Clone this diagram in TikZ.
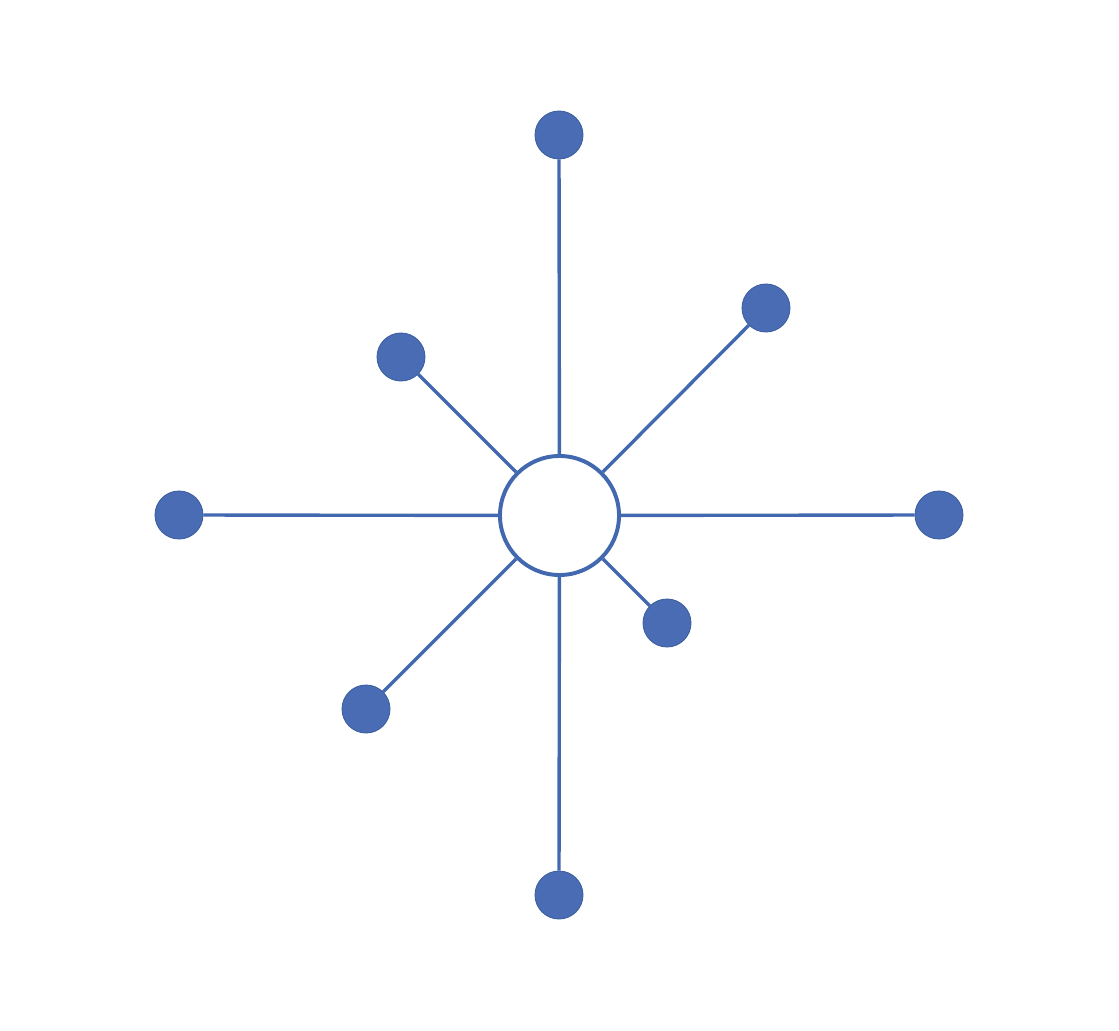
\documentclass[tikz,border=0pt]{standalone}
\definecolor{hubblue}{HTML}{4268B0}
\definecolor{leafblue}{HTML}{4A6CB4}
\tikzset{
    hub/.style={circle, draw=hubblue, line width=2.8pt, fill=white, inner sep=0pt, minimum size=2.975cm},
    leaf/.style={circle, draw=hubblue!90!black, line width=0.6pt, fill=leafblue, inner sep=0pt, minimum size=1.2cm},
    spoke/.style={draw=hubblue, line width=2.4pt}
}
\begin{document}
\begin{tikzpicture}[x=0.025cm, y=-0.025cm]
    \useasboundingbox (0, 0) rectangle (1119, 1031);
    \node[hub] (c) at (559.5, 515.5) {};
    \node[leaf] (t) at (559, 135) {};
    \node[leaf] (ur) at (766, 308) {};
    \node[leaf] (ul) at (401, 357) {};
    \node[leaf] (l) at (179, 515) {};
    \node[leaf] (r) at (939, 515) {};
    \node[leaf] (lr) at (667, 623) {};
    \node[leaf] (ll) at (366, 709) {};
    \node[leaf] (b) at (559, 895) {};
    \foreach \n in {t, ur, ul, l, r, lr, ll, b}
        \draw[spoke] (c) -- (\n);
\end{tikzpicture}
\end{document}
